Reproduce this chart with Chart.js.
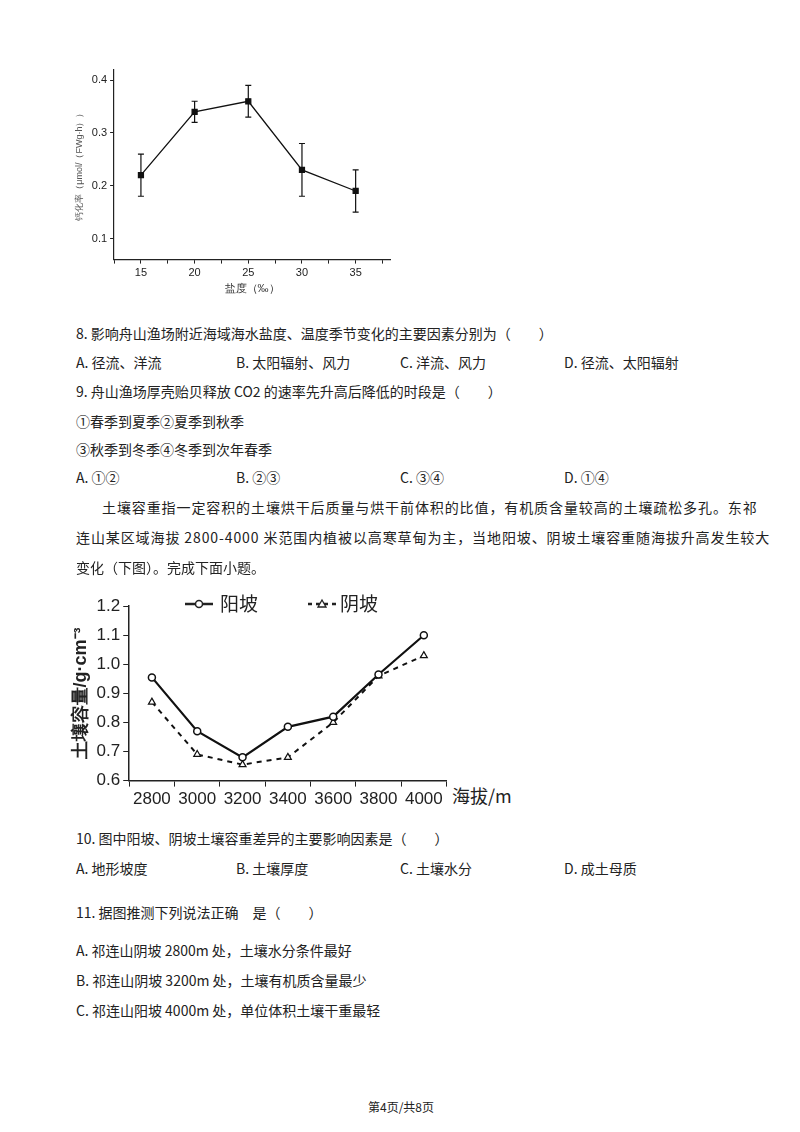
<!DOCTYPE html>
<html><head><meta charset="utf-8">
<script src="https://cdn.jsdelivr.net/npm/chart.js@4.4.0/dist/chart.umd.min.js"></script>
<style>
body{margin:0;width:800px;height:1132px;background:#fff;position:relative;font-family:"Noto Sans CJK SC","Noto Sans",sans-serif;color:#222;}
.t{position:absolute;font-size:14px;white-space:nowrap;line-height:1;}
#c1w{position:absolute;left:70px;top:60px;width:330px;height:240px;}
#c2w{position:absolute;left:66px;top:593px;width:386px;height:220px;}
</style></head><body>
<div id="c1w"><canvas id="c1"></canvas></div>
<div id="c2w"><canvas id="c2"></canvas></div>
<div class="t" style="left:452px;top:786px;font-size:18px;">海拔/m</div>
<svg style="position:absolute;left:183px;top:594px" width="200" height="20">
<line x1="2" y1="10" x2="30" y2="10" stroke="#222" stroke-width="2.5"/><circle cx="16" cy="10" r="3.5" fill="#fff" stroke="#222" stroke-width="1.5"/>
<line x1="125" y1="10" x2="153" y2="10" stroke="#222" stroke-width="2.5" stroke-dasharray="4,4"/><path d="M139 6 L143 13 L135 13 Z" fill="#fff" stroke="#222" stroke-width="1.3"/>
</svg>
<div class="t" style="left:220px;top:593px;font-size:19px;">阳坡</div>
<div class="t" style="left:340px;top:593px;font-size:19px;">阴坡</div>

<div class="t" style="left:76px;top:326px;">8. 影响舟山渔场附近海域海水盐度、温度季节变化的主要因素分别为（　　）</div>
<div class="t" style="left:76px;top:355px;">A. 径流、洋流</div>
<div class="t" style="left:236px;top:355px;">B. 太阳辐射、风力</div>
<div class="t" style="left:400px;top:355px;">C. 洋流、风力</div>
<div class="t" style="left:564px;top:355px;">D. 径流、太阳辐射</div>
<div class="t" style="left:76px;top:384px;">9. 舟山渔场厚壳贻贝释放 CO2 的速率先升高后降低的时段是（　　）</div>
<div class="t" style="left:76px;top:414px;">①春季到夏季②夏季到秋季</div>
<div class="t" style="left:76px;top:442px;">③秋季到冬季④冬季到次年春季</div>
<div class="t" style="left:76px;top:470px;">A. ①②</div>
<div class="t" style="left:236px;top:470px;">B. ②③</div>
<div class="t" style="left:400px;top:470px;">C. ③④</div>
<div class="t" style="left:564px;top:470px;">D. ①④</div>
<div class="t" style="left:102px;top:500px;letter-spacing:0.9px;">土壤容重指一定容积的土壤烘干后质量与烘干前体积的比值，有机质含量较高的土壤疏松多孔。东祁</div>
<div class="t" style="left:76px;top:530px;letter-spacing:0.9px;">连山某区域海拔 2800-4000 米范围内植被以高寒草甸为主，当地阳坡、阴坡土壤容重随海拔升高发生较大</div>
<div class="t" style="left:76px;top:560px;">变化（下图）。完成下面小题。</div>
<div class="t" style="left:76px;top:831px;">10. 图中阳坡、阴坡土壤容重差异的主要影响因素是（　　）</div>
<div class="t" style="left:76px;top:861px;">A. 地形坡度</div>
<div class="t" style="left:236px;top:861px;">B. 土壤厚度</div>
<div class="t" style="left:400px;top:861px;">C. 土壤水分</div>
<div class="t" style="left:564px;top:861px;">D. 成土母质</div>
<div class="t" style="left:76px;top:905px;">11. 据图推测下列说法正确　是（　　）</div>
<div class="t" style="left:76px;top:943px;">A. 祁连山阴坡 2800m 处，土壤水分条件最好</div>
<div class="t" style="left:76px;top:973px;">B. 祁连山阴坡 3200m 处，土壤有机质含量最少</div>
<div class="t" style="left:76px;top:1003px;">C. 祁连山阳坡 4000m 处，单位体积土壤干重最轻</div>
<div class="t" style="left:368px;top:1101px;font-size:12px;">第4页/共8页</div>

<script>
// Chart 1: calcification rate vs salinity
const salinity = [15, 20, 25, 30, 35];
const calcRate = [0.22, 0.34, 0.36, 0.23, 0.19];
const calcErr  = [0.04, 0.02, 0.03, 0.05, 0.04];

// Chart 2: soil bulk density vs altitude
const altitudes = ['2800','3000','3200','3400','3600','3800','4000'];
const sunnySlope = [0.955, 0.77, 0.68, 0.785, 0.82, 0.965, 1.10];
const shadySlope = [0.87, 0.69, 0.655, 0.68, 0.80, 0.96, 1.03];
const densityTicks = [0.6, 0.7, 0.8, 0.9, 1.0, 1.1, 1.2];

const errPlugin = {
  id:'err',
  afterDatasetsDraw(chart){
    const {ctx, scales:{x,y}} = chart;
    ctx.save(); ctx.strokeStyle='#111'; ctx.lineWidth=1.2;
    salinity.forEach((s,i)=>{
      const px=x.getPixelForValue(s), hi=y.getPixelForValue(calcRate[i]+calcErr[i]), lo=y.getPixelForValue(calcRate[i]-calcErr[i]);
      ctx.beginPath(); ctx.moveTo(px,hi); ctx.lineTo(px,lo);
      ctx.moveTo(px-3,hi); ctx.lineTo(px+3,hi); ctx.moveTo(px-3,lo); ctx.lineTo(px+3,lo); ctx.stroke();
    });
    ctx.restore();
  }
};

new Chart(document.getElementById('c1'), {
  type:'line',
  data:{datasets:[{data:salinity.map((s,i)=>({x:s,y:calcRate[i]})),borderColor:'#111',borderWidth:1.3,
    pointStyle:'rect',pointRadius:3.5,pointBackgroundColor:'#111',pointBorderColor:'#111'}]},
  options:{responsive:true,maintainAspectRatio:false,animation:false,
    plugins:{legend:{display:false},tooltip:{enabled:false}},
    layout:{padding:{right:10,top:8}},
    scales:{
      x:{type:'linear',min:12.5,max:38.2,
        afterBuildTicks(a){a.ticks=[12.5,15,17.5,20,22.5,25,27.5,30,32.5,35,37.5].map(v=>({value:v}));},
        ticks:{autoSkip:false,color:'#222',font:{size:11},callback:v=>v%5===0?v:''},
        grid:{display:true,drawOnChartArea:false,tickLength:4,color:'#222'},border:{color:'#222',width:1.2},
        title:{display:true,text:'盐度（‰）',color:'#333',font:{size:11},padding:{top:0}}},
      y:{min:0.06,max:0.42,
        afterBuildTicks(a){a.ticks=[0.1,0.2,0.3,0.4].map(v=>({value:v}));},
        ticks:{color:'#222',font:{size:11},callback:v=>v.toFixed(1)},
        grid:{display:true,drawOnChartArea:false,tickLength:4,color:'#222'},border:{color:'#222',width:1.2},
        title:{display:true,text:'钙化率（μmol/（FWg·h））',color:'#555',font:{size:9}}}
    }},
  plugins:[errPlugin]
});

new Chart(document.getElementById('c2'), {
  type:'line',
  data:{labels:altitudes,datasets:[
    {data:sunnySlope,borderColor:'#111',borderWidth:2.2,pointStyle:'circle',pointRadius:3.5,pointBackgroundColor:'#fff',pointBorderColor:'#111',pointBorderWidth:1.5},
    {data:shadySlope,borderColor:'#111',borderWidth:2,borderDash:[5,5],pointStyle:'triangle',pointRadius:4,pointBackgroundColor:'#fff',pointBorderColor:'#111',pointBorderWidth:1.2}
  ]},
  options:{responsive:true,maintainAspectRatio:false,animation:false,
    plugins:{legend:{display:false},tooltip:{enabled:false}},
    layout:{padding:{top:6}},
    scales:{
      x:{offset:true,ticks:{color:'#222',font:{size:17}},
        grid:{offset:true,drawOnChartArea:false,tickLength:6,color:'#222'},border:{color:'#222',width:1.5}},
      y:{min:0.6,max:1.2,
        afterBuildTicks(a){a.ticks=densityTicks.map(v=>({value:v}));},
        ticks:{color:'#222',font:{size:17},callback:v=>v.toFixed(1)},
        grid:{drawOnChartArea:false,tickLength:6,color:'#222'},border:{color:'#222',width:1.5},
        title:{display:true,text:'土壤容量/g·cm⁻³',color:'#222',font:{size:18,weight:'bold'},padding:{bottom:2}}}
    }}
});
</script>
</body></html>
